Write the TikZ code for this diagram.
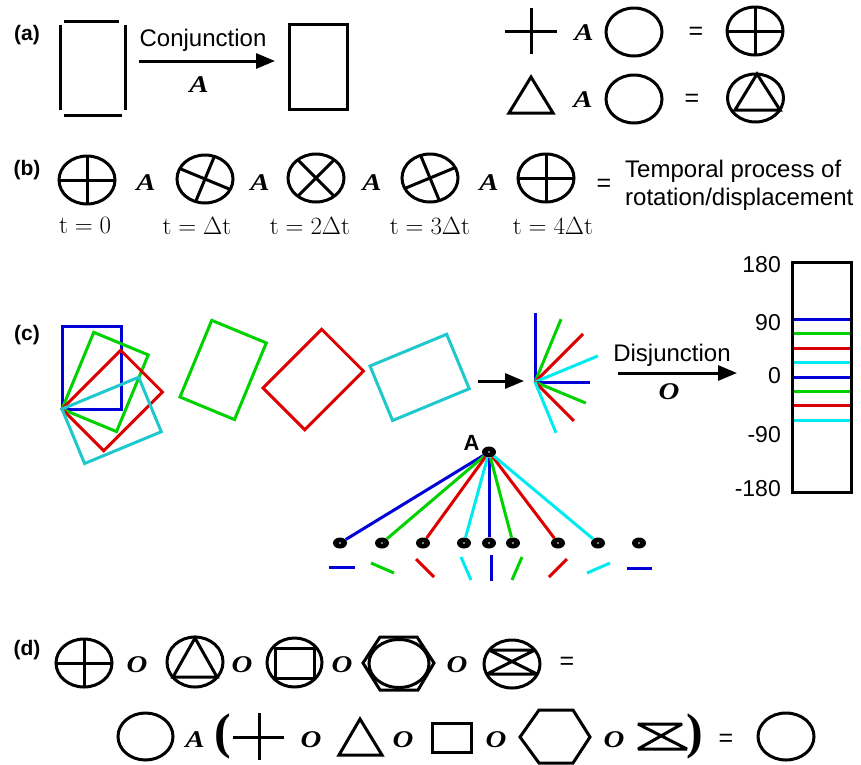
\documentclass[tikz,border=0pt]{standalone}
\usepackage{fontspec}
\newfontfamily\sansf{Liberation Sans}
\newfontfamily\serf{Liberation Serif}
\newfontfamily\opf{Liberation Serif}[FakeStretch=1.2]
\usetikzlibrary{arrows.meta,shapes.geometric}
\definecolor{cblue}{RGB}{0,0,215}
\definecolor{cgreen}{RGB}{0,210,0}
\definecolor{cred}{RGB}{220,0,0}
\definecolor{ccyanA}{RGB}{30,200,205}
\definecolor{ccyanB}{RGB}{0,235,240}
\tikzset{
  ln/.style={line width=3pt},
  cl/.style={line width=3pt},
  op/.style={font=\opf\bfseries\itshape\fontsize{24}{27}\selectfont, inner sep=0},
  lbl/.style={font=\sansf\bfseries\fontsize{21}{25}\selectfont, inner sep=0},
  txt/.style={font=\sansf\fontsize{24}{28}\selectfont, inner sep=0},
  eq/.style={font=\sansf\fontsize{25}{28}\selectfont, inner sep=0},
  tlab/.style={font=\fontsize{25}{30}\selectfont, inner sep=0},
  num/.style={font=\sansf\fontsize{23}{27}\selectfont, inner sep=0, anchor=east},
  par/.style={font=\serf\bfseries\fontsize{50}{55}\selectfont, inner sep=0},
  arr/.style={line width=3pt, -{Triangle[length=19pt,width=15pt]}},
  dot/.style={ellipse, fill=black, minimum width=14pt, minimum height=11pt, inner sep=0},
  pics/crossell/.style={code={
    \begin{scope}
      \clip (0,0) ellipse [x radius=28, y radius=24];
      \draw[ln] (#1:40) -- (#1+180:40) (#1+90:40) -- (#1+270:40);
    \end{scope}
    \draw[ln] (0,0) ellipse [x radius=28, y radius=24];
  }}
}
\begin{document}
\begin{tikzpicture}[x=1pt,y=-1pt]
\useasboundingbox (0,0) rectangle (861,764);

% ---------------- (a)
\node[lbl] (la) at (27,35) {(a)};
\draw[ln] (60,25) -- (60,110) (125,25) -- (125,110) (64,21) -- (119,21) (64,115) -- (122,115);
\coordinate (ca1) at (139,61);
\coordinate (ca2) at (275,61);
\draw[arr] (ca1) -- (ca2);
\node[txt] (conj) at (203,40) {Conjunction};
\node[op] (opa) at (199,85) {A};
\draw[ln] (289,24) rectangle (347,109);

\draw[ln] (505,31) -- (557,31) (531,8) -- (531,54);
\node[op] (a1) at (584,33) {A};
\draw[ln] (634,32) ellipse [x radius=28, y radius=24];
\node[eq] (e1) at (696,33) {=};
\pic at (755,31) {crossell=0};

\draw[ln] (509,113) -- (531,77) -- (553,113) -- cycle;
\node[op] (a2) at (583,100) {A};
\draw[ln] (634,99) ellipse [x radius=28, y radius=24];
\node[eq] (e2) at (692,100) {=};
\draw[ln] (755.5,98) ellipse [x radius=28, y radius=24];
\draw[ln] (757,74) -- (780,110) -- (735,110) -- cycle;

% ---------------- (b)
\node[lbl] (lb) at (27,170) {(b)};
\pic at (87,180) {crossell=0};
\node[op] (b1) at (146,183) {A};
\pic at (205,179) {crossell=22.5};
\node[op] (b2) at (260,183) {A};
\pic at (316,178) {crossell=45};
\node[op] (b3) at (372,183) {A};
\pic at (430,178) {crossell=67.5};
\node[op] (b4) at (489,183) {A};
\pic at (546,178) {crossell=90};
\node[eq] (e3) at (604,185) {=};
\node[txt, align=left, anchor=west] (tp) at (625,185) {Temporal process of\\rotation/displacement};
\node[tlab] (t0) at (85,226) {$\mathrm{t}=0$};
\node[tlab] (t1) at (197,226) {$\mathrm{t}=\Delta\mathrm{t}$};
\node[tlab] (t2) at (310,226) {$\mathrm{t}=2\Delta\mathrm{t}$};
\node[tlab] (t3) at (430,226) {$\mathrm{t}=3\Delta\mathrm{t}$};
\node[tlab] (t4) at (553,226) {$\mathrm{t}=4\Delta\mathrm{t}$};

% ---------------- (c)
\node[lbl] (lc) at (27,335) {(c)};
\draw[ln, cblue] (62,326) rectangle (121,409);
\draw[ln, cgreen, shift={(62,409)}, rotate=-22.5] (0,0) rectangle (59,-83);
\draw[ln, cred, shift={(62,409)}, rotate=-45] (0,0) rectangle (59,-83);
\draw[ln, ccyanA, shift={(62,409)}, rotate=-67.5] (0,0) rectangle (59,-83);
\draw[ln, cgreen, shift={(180,397)}, rotate=-22.5] (0,0) rectangle (59,-83);
\draw[ln, cred, shift={(263,388)}, rotate=-45] (0,0) rectangle (59,-83);
\draw[ln, ccyanA, shift={(370,366)}, rotate=-67.5] (0,0) rectangle (59,-83);

\coordinate (cc1) at (478,381);
\coordinate (cc2) at (524,381);
\draw[arr] (cc1) -- (cc2);

\coordinate (fo) at (535,382);
\draw[cl, cblue] (fo) -- ++(-90:69);
\draw[cl, cgreen] (fo) -- ++(-67.5:68);
\draw[cl, cred] (fo) -- ++(-45:68);
\draw[cl, ccyanB] (fo) -- ++(-22.5:68);
\draw[cl, cblue] (fo) -- ++(0:55);
\draw[cl, cgreen] (fo) -- ++(22.5:55);
\draw[cl, cred] (fo) -- ++(45:55);
\draw[cl, ccyanB] (fo) -- ++(67.5:55);

\coordinate (cd1) at (618,373);
\coordinate (cd2) at (737,373);
\draw[arr] (cd1) -- (cd2);
\node[txt] (disj) at (672,355) {Disjunction};
\node[op] (opo) at (669,392) {O};

\foreach \yy/\cc in {319.5/cblue,333.9/cgreen,348.2/cred,362.6/ccyanB,377/cblue,391.4/cgreen,405.8/cred,420.1/ccyanB}
  \draw[cl, \cc] (793,\yy) -- (850,\yy);
\draw[ln] (792,262) rectangle (851,492);
\node[num] (n1) at (781,265) {180};
\node[num] (n2) at (781,323) {90};
\node[num] (n3) at (781,376) {0};
\node[num] (n4) at (781,435) {-90};
\node[num] (n5) at (781,489) {-180};

% tree
\node[dot] (r) at (489,452) {};
\node[font=\sansf\bfseries\fontsize{22}{24}\selectfont, inner sep=0] (ra) at (471.5,442.5) {A};
\node[dot] (l1) at (340,543) {};
\node[dot] (l2) at (382,543) {};
\node[dot] (l3) at (423,543) {};
\node[dot] (l4) at (464,543) {};
\node[dot] (l5) at (489,543) {};
\node[dot] (l6) at (513,543) {};
\node[dot] (l7) at (558,543) {};
\node[dot] (l8) at (598,543) {};
\node[dot] (l9) at (639,543) {};
\draw[cl, cblue] (r) -- (l1);
\draw[cl, cgreen] (r) -- (l2);
\draw[cl, cred] (r) -- (l3);
\draw[cl, ccyanB] (r) -- (l4);
\draw[cl, cblue] (r) -- (l5);
\draw[cl, cgreen] (r) -- (l6);
\draw[cl, cred] (r) -- (l7);
\draw[cl, ccyanB] (r) -- (l8);
\foreach \n in {r,l1,l2,l3,l4,l5,l6,l7,l8,l9} \fill[white] (\n.center) circle (0.9);

\draw[cl, cblue] (329,567) -- (355,567);
\draw[cl, cgreen] (371,563) -- (394,573);
\draw[cl, cred] (416,559) -- (434,577);
\draw[cl, ccyanB] (461,557) -- (471,580);
\draw[cl, cblue] (491,555) -- (491,581);
\draw[cl, cgreen] (522,557) -- (512,580);
\draw[cl, cred] (567,559) -- (549,577);
\draw[cl, ccyanB] (610,563) -- (587,573);
\draw[cl, cblue] (627,568) -- (652,568);

% ---------------- (d)
\node[lbl] (ld) at (27,650) {(d)};
\pic at (84,663) {crossell=0};
\node[op] (d1) at (137,665) {O};
\draw[ln] (195,662) ellipse [x radius=28, y radius=25];
\draw[ln] (195,638) -- (217,677) -- (173,677) -- cycle;
\node[op] (d2) at (242,665) {O};
\draw[ln] (294.5,662.5) ellipse [x radius=27.5, y radius=24.5];
\draw[ln] (275,648) rectangle (314,678);
\node[op] (d3) at (342,665) {O};
\draw[ln] (363,663) -- (380,637) -- (417,637) -- (434,663) -- (418,690) -- (380,690) -- cycle;
\draw[ln] (399,663.5) ellipse [x radius=30, y radius=24];
\node[op] (d4) at (457,665) {O};
\draw[ln] (512,664) ellipse [x radius=28, y radius=24];
\draw[ln, line join=bevel] (489,650) -- (535,650) -- (487,674) -- (537,674) -- cycle;
\node[eq] (e4) at (567,663) {=};

\draw[ln] (145.5,736.5) ellipse [x radius=27.5, y radius=23.5];
\node[op] (d5) at (195,740) {A};
\node[par] (p1) at (223,736) {(};
\draw[ln] (233,737) -- (284,737) (259,713) -- (259,760);
\node[op] (d6) at (311,740) {O};
\draw[ln] (339,755) -- (360,719) -- (382,755) -- cycle;
\node[op] (d7) at (403,740) {O};
\draw[ln] (432,723) rectangle (471,752);
\node[op] (d8) at (496,740) {O};
\draw[ln] (520,737) -- (539,710) -- (573,710) -- (590,737) -- (573,763) -- (539,763) -- cycle;
\node[op] (d9) at (614,740) {O};
\draw[ln, line join=bevel] (638,724) -- (682,724) -- (638,749) -- (687,749) -- cycle;
\node[par] (p2) at (695,736) {)};
\node[eq] (e5) at (726,740) {=};
\draw[ln] (786,736.5) ellipse [x radius=28, y radius=23.5];
\end{tikzpicture}
\end{document}
